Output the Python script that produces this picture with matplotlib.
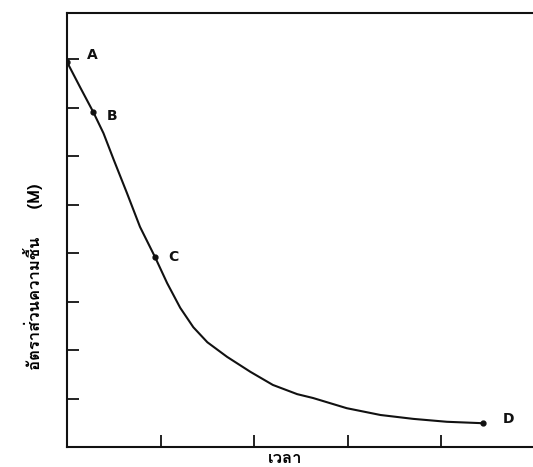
import matplotlib
matplotlib.use("Agg")
import matplotlib.pyplot as plt

# drying curve (time in tick units, moisture ratio in tick units)
time = [0.0, 0.14, 0.28, 0.39, 0.50, 0.64, 0.78, 0.94, 1.07, 1.21, 1.35, 1.50,
        1.71, 1.96, 2.20, 2.46, 2.63, 2.99, 3.35, 3.70, 4.06, 4.45]
moisture = [7.94, 7.42, 6.91, 6.47, 5.92, 5.24, 4.54, 3.92, 3.38, 2.87, 2.47, 2.16,
            1.86, 1.55, 1.28, 1.09, 1.01, 0.80, 0.66, 0.58, 0.52, 0.49]

point_names = ["A", "B", "C", "D"]
point_time = [0.0, 0.28, 0.94, 4.45]
point_moist = [7.94, 6.91, 3.92, 0.49]

fig = plt.figure(figsize=(5.33, 4.67), dpi=100)
ax = fig.add_axes([67 / 533, 20 / 467, 1 - 67 / 533, 434 / 467])

ax.plot(time, moisture, color="#111111", lw=1.5, solid_joinstyle="round")
ax.plot(point_time, point_moist, "o", color="#111111", ms=3.5)

offsets = [(0.27, 0.14), (0.2, -0.09), (0.2, 0.0), (0.27, 0.09)]
for name, t, m, (dx, dy) in zip(point_names, point_time, point_moist, offsets):
    ax.text(t + dx, m + dy, name, fontsize=10, fontweight="bold",
            ha="center", va="center", color="#111111")

ax.set_xlim(0, 4.98)
ax.set_ylim(0, 8.95)
ax.set_xticks([1, 2, 3, 4])
ax.set_yticks([1, 2, 3, 4, 5, 6, 7, 8])
ax.tick_params(direction="in", length=8.5, width=1.3, labelbottom=False,
               labelleft=False, colors="#111111")
ax.spines["right"].set_visible(False)
for s in ["left", "top", "bottom"]:
    ax.spines[s].set_linewidth(1.5)
    ax.spines[s].set_color("#111111")

fig.text(285 / 533, 1 - 463 / 467, "เวลา", fontsize=12, fontweight="bold",
         family=["Loma", "DejaVu Sans"], ha="center", va="baseline")
fig.text(33 / 533, 1 - 277 / 467, "อัตราส่วนความชื้น     (M)", fontsize=12,
         fontweight="bold", family=["Loma", "DejaVu Sans"], rotation=90,
         ha="center", va="center")

fig.savefig("out.png", dpi=100)
